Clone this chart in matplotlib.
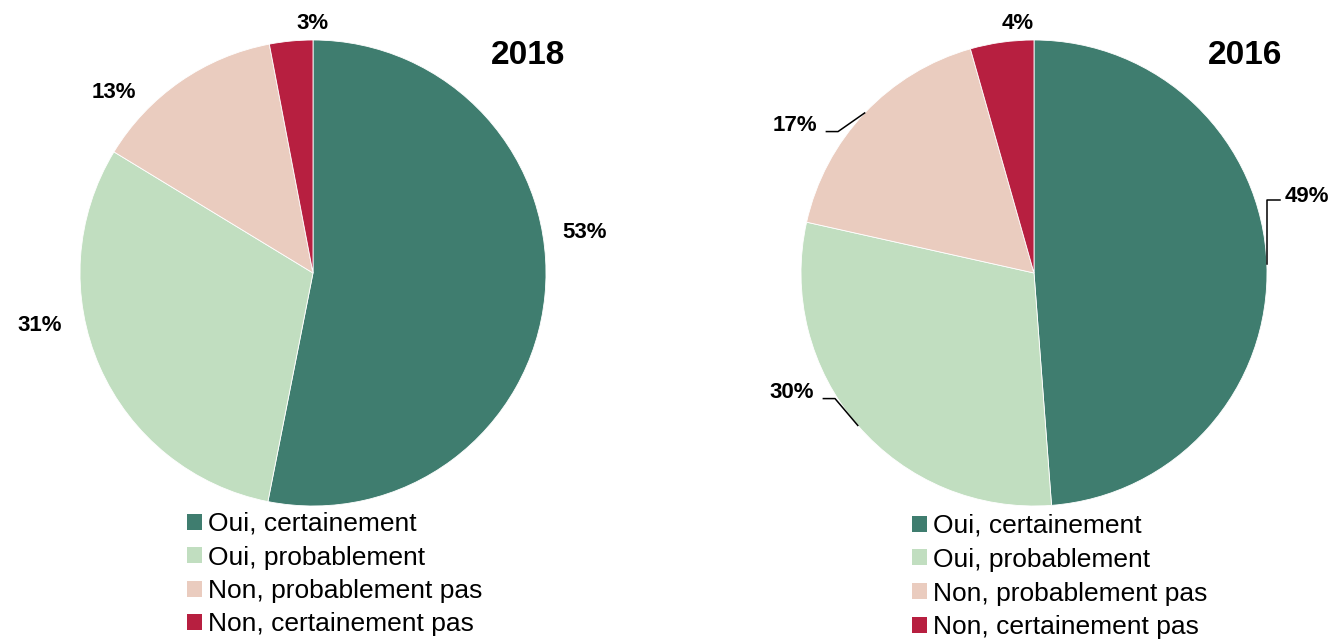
import matplotlib
matplotlib.use("Agg")
import matplotlib.pyplot as plt
from matplotlib.patches import Patch
import numpy as np

plt.rcParams['font.family'] = ['Liberation Sans', 'DejaVu Sans']

categories = ["Oui, certainement", "Oui, probablement", "Non, probablement pas", "Non, certainement pas"]
values_2018 = [53.1, 30.6, 13.3, 3.0]
values_2016 = [48.8, 29.7, 17.1, 4.4]
colors = ["#3F7D6F", "#C1DEC0", "#EACCBF", "#B71F40"]
titles = ["2018", "2016"]

W, H = 1335, 640
fig = plt.figure(figsize=(W / 100, H / 100), dpi=100)

R = 233
centers = [(313, 273), (1034, 273)]

# label positions (in pie-radius units relative to center) and leader flags
label_pos_2018 = [(1.167, 0.175), (-1.172, -0.224), (-0.854, 0.776), (0.0, 1.072)]
label_pos_2016 = [(1.172, 0.329), (-1.039, -0.512), (-1.026, 0.634), (-0.069, 1.072)]
leader_2016 = [True, True, True, False]
leader_2018 = [False, False, False, False]

legend_pos = [(187, 512), (912, 514)]
legend_spacing = [0.36, 0.37]
title_pos = [(528, 55), (1245, 55)]

data = [values_2018, values_2016]
lpos = [label_pos_2018, label_pos_2016]
leaders = [leader_2018, leader_2016]

for i in range(2):
    cx, cy = centers[i]
    ax = fig.add_axes([(cx - R) / W, (H - cy - R) / H, 2 * R / W, 2 * R / H])
    wedges, _ = ax.pie(data[i], colors=colors, startangle=90, counterclock=False,
                       radius=1, wedgeprops=dict(edgecolor='white', linewidth=0.6))
    ax.set_xlim(-1, 1)
    ax.set_ylim(-1, 1)
    ax.set_aspect('equal')
    ax.axis('off')
    for j, (w, v) in enumerate(zip(wedges, data[i])):
        tx, ty = lpos[i][j]
        ax.text(tx, ty, f"{int(round(v))}%", ha='center', va='center', fontsize=16,
                fontweight='bold', clip_on=False)
        if leaders[i][j]:
            ang = np.deg2rad((w.theta1 + w.theta2) / 2)
            ex, ey = np.cos(ang), np.sin(ang)
            if tx > 0:
                hx0 = tx - 0.116
                ly = ty - 0.016
                xs = [ex, ex, hx0]
                ys = [ey, ly, ly]
            else:
                hx1 = tx + 0.135
                hx2 = hx1 + 0.05
                ly = ty - 0.027
                xs = [hx1, hx2, ex]
                ys = [ly, ly, ey]
            ax.plot(xs, ys, color='black', linewidth=1.1, clip_on=False)
    fig.text(title_pos[i][0] / W, 1 - title_pos[i][1] / H, titles[i],
             ha='center', va='center', fontsize=24, fontweight='bold')
    handles = [Patch(facecolor=c, edgecolor='none') for c in colors]
    lx, ly = legend_pos[i]
    fig.legend(handles, categories, loc='upper left',
               bbox_to_anchor=(lx / W, 1 - ly / H), frameon=False,
               fontsize=19, handlelength=0.55, handleheight=0.55,
               handletextpad=0.25, labelspacing=legend_spacing[i], borderpad=0,
               borderaxespad=0)

fig.savefig("out.png", dpi=100)
